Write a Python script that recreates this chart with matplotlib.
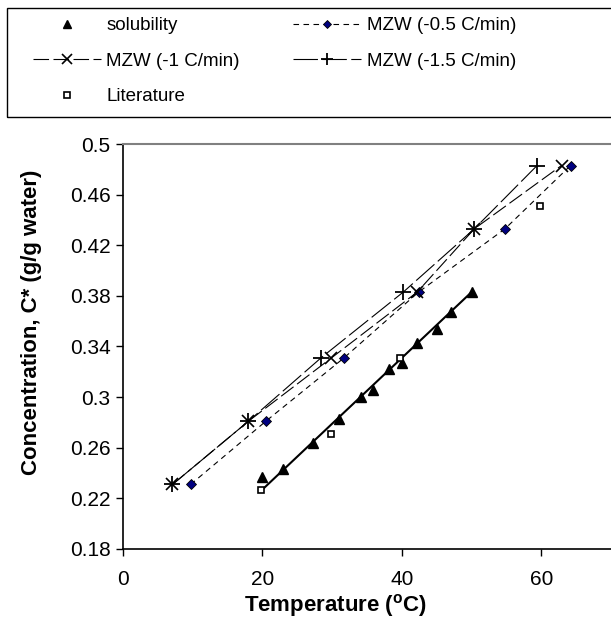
import numpy as np
import matplotlib
matplotlib.use("Agg")
import matplotlib.pyplot as plt

plt.rcParams['font.family'] = ['Liberation Sans', 'DejaVu Sans']

# solubility data (triangles)
sol_t = [20.0, 23.0, 27.3, 31.0, 34.2, 35.9, 38.2, 40.0, 42.2, 45.0, 47.0, 50.0]
sol_c = [0.237, 0.243, 0.2635, 0.283, 0.300, 0.306, 0.322, 0.327, 0.343, 0.354, 0.367, 0.383]

# trend line through the solubility points
trend_t = [20.0, 50.0]
trend_c = [0.227, 0.383]

# literature values
lit_t = [19.8, 29.8, 39.7, 59.8]
lit_c = [0.2266, 0.2706, 0.3312, 0.451]

# metastable zone width data, same concentrations for each cooling rate
mzw_c = [0.231, 0.281, 0.331, 0.383, 0.433, 0.483]
mzw05_t = [9.7, 20.5, 31.7, 42.4, 54.8, 64.2]
mzw1_t = [7.1, 18.0, 29.9, 42.2, 50.4, 62.9]
mzw15_t = [7.1, 18.0, 28.4, 40.2, 50.4, 59.4]

W, H = 611, 619
fig = plt.figure(figsize=(W / 100, H / 100), dpi=100)
ax = fig.add_axes([123 / W, 1 - 549 / H, 1 - 123 / W, (549 - 144) / H])

ax.plot(trend_t, trend_c, color='black', lw=1.5)
h_sol, = ax.plot(sol_t, sol_c, ls='none', marker='^', ms=7, color='black', label='solubility')
h_lit, = ax.plot(lit_t, lit_c, ls='none', marker='s', ms=5, mfc='white', mec='black', mew=1.2,
                 label='Literature')
h05, = ax.plot(mzw05_t, mzw_c, color='black', lw=0.8, dashes=(5, 4), marker='D', ms=5,
               mfc='#000080', mec='black', mew=0.6, label='MZW (-0.5 C/min)')
h1, = ax.plot(mzw1_t, mzw_c, color='black', lw=0.8, dashes=(14, 4), marker='x', ms=8, mew=1.2,
              label='MZW (-1 C/min)')
h15, = ax.plot(mzw15_t, mzw_c, color='black', lw=0.8, dashes=(22, 4), marker='+', ms=11, mew=1.3,
               label='MZW (-1.5 C/min)')

ax.set_xlim(0, 70)
ax.set_ylim(0.18, 0.5)
ax.set_xticks([0, 20, 40, 60])
ax.set_yticks(np.arange(0.18, 0.501, 0.04))
ax.set_yticklabels(['0.18', '0.22', '0.26', '0.3', '0.34', '0.38', '0.42', '0.46', '0.5'])
ax.tick_params(direction='out', length=5, labelsize=15, width=1, pad=4)
ax.tick_params(axis='x', pad=10)
ax.spines['right'].set_visible(False)
ax.spines['top'].set_color('#808080')
ax.spines['top'].set_linewidth(1.5)
ax.spines['left'].set_linewidth(1.2)
ax.spines['bottom'].set_linewidth(1.2)
ax.set_xlabel('Temperature ($\\mathregular{^o}$C)', fontsize=16, fontweight='bold')
ax.set_ylabel('Concentration, C* (g/g water)', fontsize=16, fontweight='bold')
ax.xaxis.set_label_coords((336 - 123) / 488, (549 - 592) / 405)
ax.yaxis.set_label_coords((42 - 123) / 488, (549 - 322) / 405)

# legend box drawn separately so it can run off the right edge like the original
fig.patches.append(plt.Rectangle((7 / W, 1 - 117 / H), 1.0, 109 / H, transform=fig.transFigure,
                                 fill=False, edgecolor='black', lw=1.0))
leg = fig.legend(handles=[h_sol, h1, h_lit, h05, h15], ncol=2,
                 loc='upper left', bbox_to_anchor=(33 / W, 1 - 17 / H),
                 fontsize=13.5, handlelength=3.6, columnspacing=2.87, handletextpad=0.3,
                 labelspacing=0.98, borderpad=0, borderaxespad=0, frameon=False,
                 markerscale=0.85)

fig.savefig('out.png', dpi=100)
